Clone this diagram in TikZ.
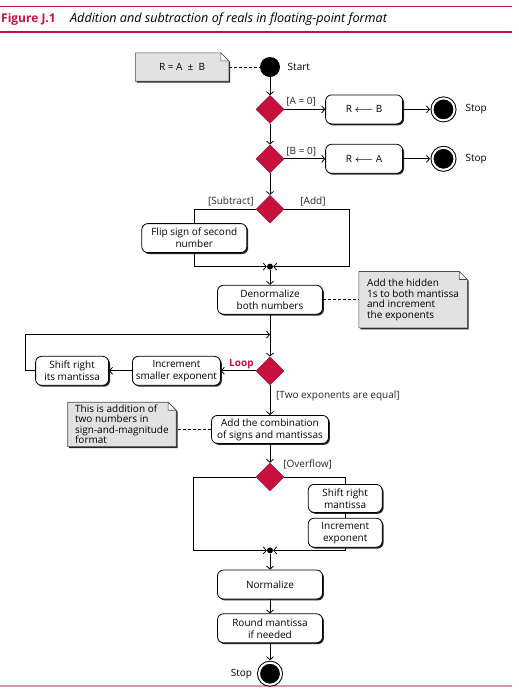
\documentclass[tikz,border=0pt]{standalone}
\usepackage{fontspec}
\setmainfont{Open Sans}
\usetikzlibrary{positioning,shapes.geometric,arrows.meta,shadows,backgrounds}

\definecolor{crimson}{RGB}{200,16,62}
\definecolor{rulepink}{RGB}{214,150,178}
\definecolor{notegray}{RGB}{226,226,226}

\begin{document}
\begin{tikzpicture}[x=1pt, y=1pt, nodes = {align = center},
    font=\fontsize{10}{12}\selectfont,
    >={Straight Barb[length=3pt,width=7pt]},
    flow/.style={->, line width=0.8pt},
    link/.style={densely dashed, line width=0.7pt},
    action/.style={draw, line width=0.8pt, rounded corners=6pt, fill=white,
        minimum width=105pt, minimum height=29pt, inner sep=2pt,
        drop shadow={shadow xshift=1.4pt, shadow yshift=-1.4pt, opacity=0.85, fill=black}},
    decision/.style={diamond, fill=crimson, draw=crimson!70!black, line width=0.4pt,
        minimum width=28pt, minimum height=28pt, inner sep=0pt},
    startdot/.style={circle, fill=black, minimum size=20pt, inner sep=0pt},
    stopdot/.style={circle, fill=black, draw=black, double=white, double distance=2pt,
        line width=1pt, minimum size=22pt, inner sep=0pt},
    merge/.style={circle, fill=black, minimum size=6pt, inner sep=0pt},
    note/.style={minimum width=#1, align=left, inner xsep=6pt, inner ysep=2pt,
        font=\fontsize{10}{10.5}\selectfont},
    guard/.style={inner sep=2pt, text=black!85}]

  \useasboundingbox (0,0) rectangle (519,-689);

  % heading
  \draw[crimson, line width=0.6pt] (0,-6) -- (512,-6);
  \draw[crimson, line width=2pt] (0,-31.5) -- (512,-31.5);
  \draw[rulepink, line width=1.5pt] (0,-686) -- (512,-686);
  \node (fignum) [anchor=base west, inner sep=0pt, text=crimson,
      font=\fontsize{12}{14}\selectfont\bfseries] at (1,-22) {Figure J.1};
  \node (figtitle) [anchor=base west, inner sep=0pt, font=\fontsize{12.6}{14}\selectfont\itshape]
      at ([xshift=14pt]fignum.base east) {Addition and subtraction of reals in floating-point format};

  % zero operands
  \node (start) [startdot] at (270,-67) {};
  \node (startlbl) [right=4pt of start] {Start};
  \node (eqnote) [note=93pt, align=center, minimum height=28pt, left=31pt of start] {R = A \ ± \ B};
  \node (dec1) [decision, below=18pt of start] {};
  \node (setb) [action, minimum width=77pt, right=41pt of dec1] {R {\boldmath$\longleftarrow$} B};
  \node (stop1) [stopdot, right=29pt of setb] {};
  \node (stoplbl1) [right=7pt of stop1] {Stop};
  \node (azero) [guard, anchor=south west] at ([yshift=1pt]dec1.east) {[A = 0]};
  \node (dec2) [decision, below=21pt of dec1] {};
  \node (seta) [action, minimum width=77pt, right=41pt of dec2] {R {\boldmath$\longleftarrow$} A};
  \node (stop2) [stopdot, right=29pt of seta] {};
  \node (stoplbl2) [right=7pt of stop2] {Stop};
  \node (bzero) [guard, anchor=south west] at ([yshift=1pt]dec2.east) {[B = 0]};

  % sign of second operand
  \node (dec3) [decision, below=22pt of dec2] {};
  \node (sublbl) [guard, anchor=south east] at ([yshift=1pt]dec3.west) {[Subtract]};
  \node (addlbl) [guard, anchor=south west] at ([xshift=14pt,yshift=1pt]dec3.east) {[Add]};
  \node (flip) [action, below=14pt of dec3.west, xshift=-61.5pt] {Flip sign of second\\number};
  \node (join1) [merge, below=40pt of dec3] {};
  \node (denorm) [action, below=15pt of join1] {Denormalize\\both numbers};
  \node (hidenote) [note=108pt, minimum height=56pt, right=36pt of denorm]
      {Add the hidden\\1s to both mantissa\\and increment\\the exponents};

  % align exponents
  \coordinate [below=20pt of denorm] (loopin);
  \node (dec4) [decision, below=42pt of denorm] {};
  \node (incr) [action, minimum width=88pt, left=35pt of dec4] {Increment\\smaller exponent};
  \node (shiftr) [action, minimum width=73pt, left=23pt of incr] {Shift right\\its mantissa};
  \node (looplbl) [anchor=south east, inner sep=2pt, text=crimson, font=\fontsize{10}{12}\selectfont\bfseries]
      at (dec4.west) {Loop};
  \node (eqlbl) [guard, anchor=north west] at ([xshift=4pt,yshift=-4pt]dec4.south) {[Two exponents are equal]};

  % add and fix overflow
  \node (addbox) [action, minimum width=117pt, minimum height=28pt, below=30pt of dec4]
      {Add the combination\\of signs and mantissas};
  \node (signnote) [note=108pt, minimum height=44pt, inner ysep=0pt, left=35pt of addbox, yshift=5pt]
      {This is addition of\\two numbers in\\sign-and-magnitude\\format};
  \node (dec5) [decision, below=19pt of addbox] {};
  \node (ovflbl) [guard, anchor=south west] at ([xshift=-3pt,yshift=6pt]dec5.east) {[Overflow]};
  \node (shiftm) [action, minimum width=74pt, minimum height=28pt, below=7pt of dec5.east, xshift=61pt]
      {Shift right\\mantissa};
  \node (incexp) [action, minimum width=74pt, below=5pt of shiftm] {Increment\\exponent};
  \node (join2) [merge, below=56pt of dec5] {};
  \node (normal) [action, below=16pt of join2] {Normalize};
  \node (roundm) [action, below=14pt of normal] {Round mantissa\\if needed};
  \node (stop3) [stopdot, below=19pt of roundm] {};
  \node (stoplbl3) [left=3pt of stop3] {Stop};

  % notes
  \begin{scope}[on background layer]
    \foreach \n in {eqnote, hidenote, signnote} {
      \filldraw[fill=notegray, draw=black!70, line width=0.6pt,
          drop shadow={shadow xshift=1.4pt, shadow yshift=-1.4pt, opacity=0.85, fill=black}]
          (\n.south west) |- ([xshift=-8pt]\n.north east) -- ([yshift=-8pt]\n.north east) |- cycle;
      \filldraw[fill=white, draw=black!70, line width=0.6pt]
          ([xshift=-8pt]\n.north east) |- ([yshift=-8pt]\n.north east) -- cycle;
    }
  \end{scope}

  % connectors
  \draw[link] (eqnote) -- (start);
  \draw[link] (denorm) -- (hidenote);
  \draw[link] (addbox.west) -- (addbox.west -| signnote.east);
  \draw[flow] (start) -- (dec1);
  \draw[flow] (dec1) -- (setb);
  \draw[flow, shorten >=2pt] (setb) -- (stop1);
  \draw[flow] (dec1) -- (dec2);
  \draw[flow] (dec2) -- (seta);
  \draw[flow, shorten >=2pt] (seta) -- (stop2);
  \draw[flow] (dec2) -- (dec3);
  \draw[line width=0.8pt] (dec3.west) -| (flip.north);
  \draw[flow] (flip.south) |- (join1);
  \draw[flow] (dec3.east) -- ++(65pt,0) |- (join1);
  \draw[flow] (join1) -- (denorm);
  \draw[flow] (denorm) -- (dec4);
  \draw[flow] (dec4) -- (incr);
  \draw[flow] (incr) -- (shiftr);
  \draw[flow] (shiftr.west) -- ++(-10pt,0) |- (loopin);
  \draw[flow] (dec4) -- (addbox);
  \draw[flow] (addbox) -- (dec5);
  \draw[flow] (dec5.west) -- ++(-62pt,0) |- (join2);
  \draw[line width=0.8pt] (dec5.east) -| (shiftm.north);
  \draw[line width=0.8pt] (shiftm) -- (incexp);
  \draw[flow] (incexp.south) |- (join2);
  \draw[flow] (join2) -- (normal);
  \draw[flow] (normal) -- (roundm);
  \draw[flow, shorten >=2pt] (roundm) -- (stop3);
\end{tikzpicture}
\end{document}
